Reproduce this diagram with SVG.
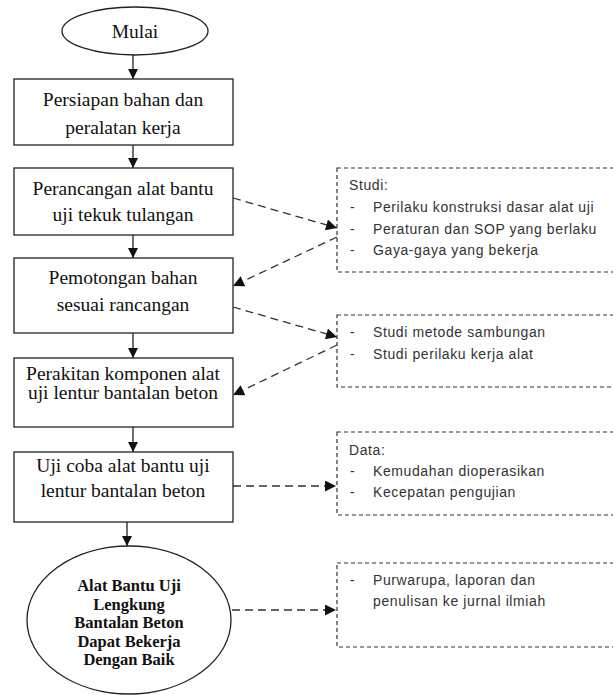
<svg xmlns="http://www.w3.org/2000/svg" width="613" height="695" viewBox="0 0 613 695">
<style>
.n{fill:#fff;stroke:#222;stroke-width:1.3}
.t{font-family:"Liberation Serif",serif;font-size:19.5px;fill:#111;text-anchor:middle}
.tb{font-family:"Liberation Serif",serif;font-size:16.5px;font-weight:bold;fill:#111;text-anchor:middle}
.d{fill:#fff;stroke:#333;stroke-width:1.2;stroke-dasharray:4,3}
.s{font-family:"Liberation Sans",sans-serif;font-size:14px;letter-spacing:0.6px;fill:#333}
.c{stroke:#222;stroke-width:1.3;fill:none}
.cd{stroke:#333;stroke-width:1.3;fill:none;stroke-dasharray:8,5}
</style>
<defs>
<marker id="ah" viewBox="0 0 10 10" refX="10" refY="5" markerWidth="10" markerHeight="10" markerUnits="userSpaceOnUse" orient="auto"><path d="M0,0 L10,5 L0,10 z" fill="#111"/></marker>
<marker id="ah2" viewBox="0 0 10 10" refX="10" refY="5" markerWidth="12" markerHeight="11" markerUnits="userSpaceOnUse" orient="auto"><path d="M0,0 L10,5 L0,10 z" fill="#111"/></marker>
</defs>
<g id="connectors">
<line class="c" x1="133" y1="55" x2="133" y2="79" marker-end="url(#ah)"/>
<line class="c" x1="133" y1="145" x2="133" y2="168" marker-end="url(#ah)"/>
<line class="c" x1="133" y1="235" x2="133" y2="258" marker-end="url(#ah)"/>
<line class="c" x1="133" y1="333" x2="133" y2="358" marker-end="url(#ah)"/>
<line class="c" x1="133" y1="427" x2="133" y2="452" marker-end="url(#ah)"/>
<line class="c" x1="127" y1="522" x2="127" y2="546" marker-end="url(#ah)"/>
<line class="cd" x1="233" y1="198" x2="337" y2="228" marker-end="url(#ah2)"/>
<line class="cd" x1="337" y1="237" x2="233" y2="286" marker-end="url(#ah2)"/>
<line class="cd" x1="233" y1="307" x2="337" y2="337" marker-end="url(#ah2)"/>
<line class="cd" x1="337" y1="345" x2="233" y2="395" marker-end="url(#ah2)"/>
<line class="cd" x1="233" y1="486" x2="336" y2="486" marker-end="url(#ah2)"/>
<line class="cd" x1="232" y1="610" x2="336" y2="610" marker-end="url(#ah2)"/>
</g>
<g id="mulai"><ellipse class="n" cx="135" cy="31" rx="73" ry="24"/><text class="t" x="135" y="38">Mulai</text></g>
<g id="persiapan"><rect class="n" x="14" y="79" width="219" height="66"/><text class="t" x="123" y="106">Persiapan bahan dan</text><text class="t" x="123" y="134">peralatan kerja</text></g>
<g id="perancangan"><rect class="n" x="14" y="168" width="219" height="67"/><text class="t" x="123" y="195">Perancangan alat bantu</text><text class="t" x="123" y="221">uji tekuk tulangan</text></g>
<g id="pemotongan"><rect class="n" x="14" y="258" width="219" height="75"/><text class="t" x="123" y="284">Pemotongan bahan</text><text class="t" x="123" y="311">sesuai rancangan</text></g>
<g id="perakitan"><rect class="n" x="14" y="358" width="219" height="69"/><text class="t" x="123" y="380">Perakitan komponen alat</text><text class="t" x="123" y="399">uji lentur bantalan beton</text></g>
<g id="ujicoba"><rect class="n" x="14" y="452" width="219" height="70"/><text class="t" x="123" y="472">Uji coba alat bantu uji</text><text class="t" x="123" y="497">lentur bantalan beton</text></g>
<g id="selesai"><ellipse class="n" cx="129" cy="620" rx="102" ry="74"/>
<text class="tb" x="129" y="591">Alat Bantu Uji</text><text class="tb" x="129" y="610">Lengkung</text><text class="tb" x="129" y="628">Bantalan Beton</text><text class="tb" x="129" y="647">Dapat Bekerja</text><text class="tb" x="129" y="665">Dengan Baik</text></g>
<g id="studi"><rect class="d" x="337" y="168" width="290" height="104"/>
<text class="s" x="349" y="190">Studi:</text>
<text class="s" x="350" y="212">-</text><text class="s" x="373" y="212">Perilaku konstruksi dasar alat uji</text>
<text class="s" x="350" y="234">-</text><text class="s" x="373" y="234">Peraturan dan SOP yang berlaku</text>
<text class="s" x="350" y="255">-</text><text class="s" x="373" y="255">Gaya-gaya yang bekerja</text></g>
<g id="metode"><rect class="d" x="337" y="315" width="290" height="72"/>
<text class="s" x="350" y="337">-</text><text class="s" x="373" y="337">Studi metode sambungan</text>
<text class="s" x="350" y="359">-</text><text class="s" x="373" y="359">Studi perilaku kerja alat</text></g>
<g id="data"><rect class="d" x="337" y="432" width="290" height="83"/>
<text class="s" x="349" y="455">Data:</text>
<text class="s" x="350" y="476">-</text><text class="s" x="373" y="476">Kemudahan dioperasikan</text>
<text class="s" x="350" y="497">-</text><text class="s" x="373" y="497">Kecepatan pengujian</text></g>
<g id="output"><rect class="d" x="337" y="563" width="290" height="84"/>
<text class="s" x="350" y="585">-</text><text class="s" x="373" y="585">Purwarupa, laporan dan</text>
<text class="s" x="373" y="606">penulisan ke jurnal ilmiah</text></g>
</svg>
